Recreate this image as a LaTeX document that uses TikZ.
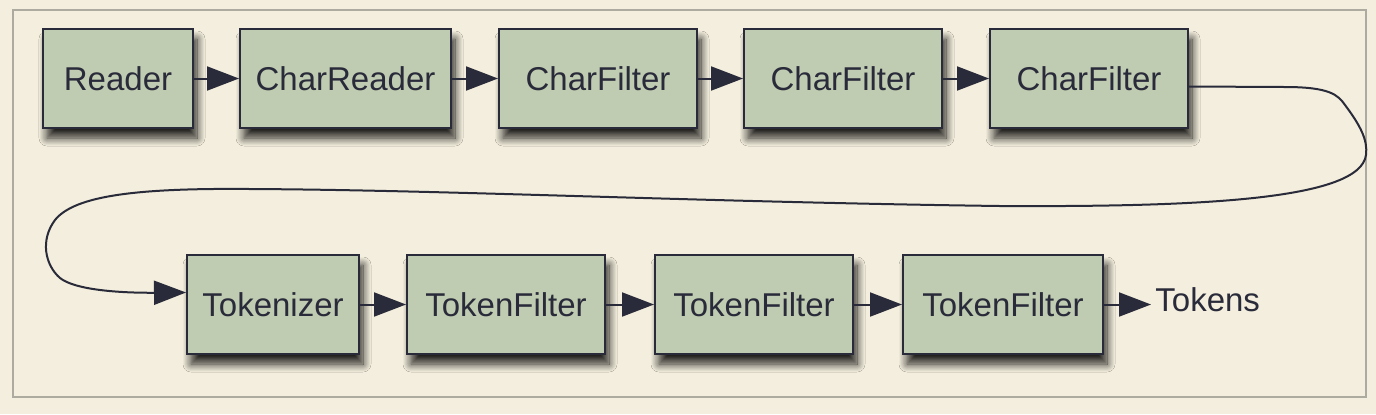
\documentclass[tikz,border=0pt]{standalone}
\usepackage{fontspec}
\setmainfont{Liberation Sans}
\usetikzlibrary{arrows.meta,shadows.blur}

\definecolor{paper}{HTML}{F3EEDD}
\definecolor{sage}{HTML}{C0CCB1}
\definecolor{ink}{HTML}{2A2B3A}
\definecolor{frame}{HTML}{ADAAA0}

\tikzset{
  stage/.style={draw=ink, fill=sage, line width=1pt, minimum height=49.5pt,
    text=ink, font=\fontsize{16.5}{19}\selectfont,
    blur shadow={shadow xshift=2pt, shadow yshift=-5pt, shadow blur radius=4pt,
      shadow blur steps=12, shadow opacity=85}},
  flow/.style={draw=ink, line width=1pt, -{Triangle[length=16pt,width=12pt]}}
}

\begin{document}
\begin{tikzpicture}[x=0.5pt, y=-0.5pt]

            \fill[paper] (0,0) rectangle (1376,414);
            \useasboundingbox (0,0) rectangle (1376,414);
            \draw[frame, line width=0.6pt] (13,10) rectangle (1366,397);

            % first row
            \node[stage, minimum width=75pt] (reader) at (118,78.5) {Reader};
            \node[stage, minimum width=105.5pt] (charreader) at (345.5,78.5) {CharReader};
            \node[stage, minimum width=99pt] (charfilterA) at (598,78.5) {CharFilter};
            \node[stage, minimum width=99pt] (charfilterB) at (843,78.5) {CharFilter};
            \node[stage, minimum width=99pt] (charfilterC) at (1089,78.5) {CharFilter};

            % second row
            \node[stage, minimum width=86pt] (tokenizer) at (273,304.5) {Tokenizer};
            \node[stage, minimum width=99pt] (tokenfilterA) at (506,304.5) {TokenFilter};
            \node[stage, minimum width=99pt] (tokenfilterB) at (754,304.5) {TokenFilter};
            \node[stage, minimum width=100pt] (tokenfilterC) at (1003,304.5) {TokenFilter};
            \node[text=ink, font=\fontsize{16.5}{19}\selectfont, inner sep=2pt, anchor=west] (tokens) at (1151,300) {Tokens};

            \draw[flow] (reader) -- (charreader);
            \draw[flow] (charreader) -- (charfilterA);
            \draw[flow] (charfilterA) -- (charfilterB);
            \draw[flow] (charfilterB) -- (charfilterC);

            \draw[flow] ([yshift=-4pt]charfilterC.east) -- (1285,87)
                .. controls (1330,87) and (1338,95) .. (1345,105)
                .. controls (1360,125) and (1368,140) .. (1366,155)
                .. controls (1360,200) and (1200,207) .. (1000,206)
                .. controls (700,202) and (450,190) .. (250,189)
                .. controls (140,188) and (75,195) .. (55,220)
                .. controls (40,240) and (45,265) .. (60,278)
                .. controls (75,290) and (120,293) .. ([yshift=6pt]tokenizer.west);

            \draw[flow] (tokenizer) -- (tokenfilterA);
            \draw[flow] (tokenfilterA) -- (tokenfilterB);
            \draw[flow] (tokenfilterB) -- (tokenfilterC);
            \draw[flow] (tokenfilterC.east) -- (tokens.west |- tokenfilterC.east);

\end{tikzpicture}
\end{document}
